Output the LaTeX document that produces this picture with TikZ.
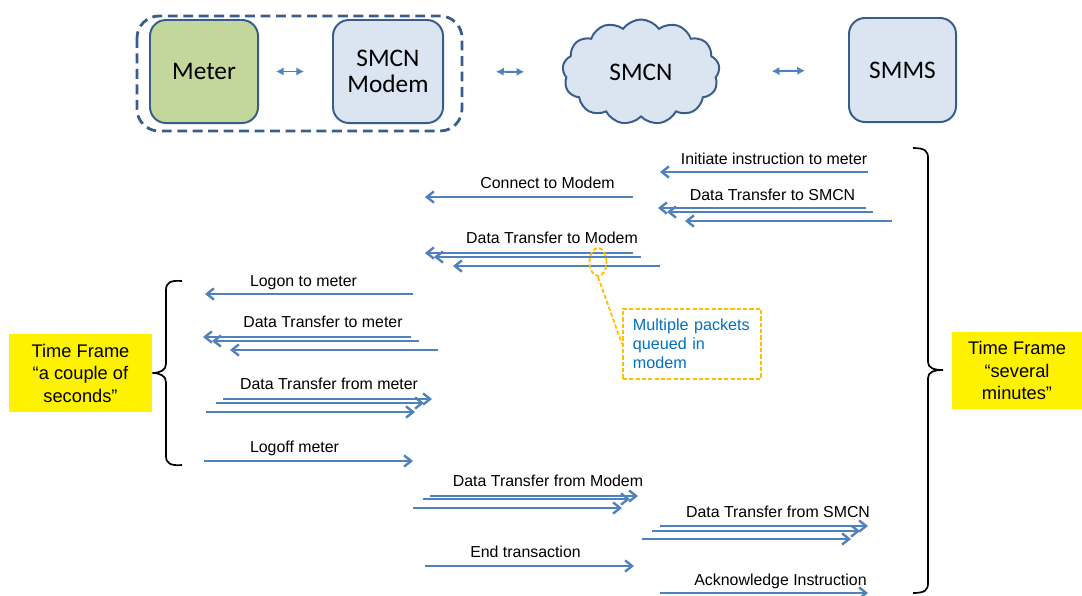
\documentclass[tikz,border=0pt]{standalone}
\usepackage{fontspec}
\setmainfont{Liberation Sans}
\newfontfamily\boxfont{Carlito}
\usetikzlibrary{arrows.meta,shapes.geometric,shapes.symbols}

\begin{document}
\begin{tikzpicture}[x=0.025cm, y=-0.025cm,
  unit/.style={draw=edgeblue, line width=1.4pt, rounded corners=0.4cm, minimum height=2.575cm, align=center, font=\boxfont\fontsize{18}{19}\selectfont},
  link/.style={draw=msgblue, line width=1.4pt, {Latex[length=5.5pt,width=6pt]}-{Latex[length=5.5pt,width=6pt]}},
  msg/.style={draw=msgblue, line width=1.7pt, -{Straight Barb[length=5pt,width=8pt]}},
  lbl/.style={anchor=base, inner sep=0pt, font=\fontsize{11.3}{13}\selectfont},
  timebox/.style={fill=yellow, align=center, inner sep=0pt, font=\fontsize{13}{16}\selectfont},
  brace/.style={draw=black, line width=1.2pt},
  note/.style={draw=noteorange, line width=1.3pt, dash pattern=on 3pt off 1.5pt}]
  \useasboundingbox (0,0) rectangle (1082,595);

  \definecolor{edgeblue}{HTML}{385D8A}
  \definecolor{boxblue}{HTML}{DBE5F1}
  \definecolor{metergreen}{HTML}{C3D69B}
  \definecolor{msgblue}{HTML}{4F81BD}
  \definecolor{noteorange}{HTML}{FFC000}
  \definecolor{notetext}{HTML}{0070C0}

  % units on top
  \draw[edgeblue, line width=2pt, dash pattern=on 7pt off 4pt, rounded corners=0.55cm] (137,16) rectangle (462,131);
  \node[unit, fill=metergreen, minimum width=2.7cm] (meter) at (204,71.5) {Meter};
  \node[unit, fill=boxblue, minimum width=2.75cm] (modem) at (388,71.5) {SMCN\\Modem};
  \node[cloud, cloud puffs=13, cloud puff arc=110, aspect=1.5, draw=edgeblue, fill=boxblue, line width=1.4pt,
        minimum width=3.925cm, minimum height=2.625cm, font=\boxfont\fontsize{18}{19}\selectfont] (smcn) at (641,72) {SMCN};
  \node[unit, fill=boxblue, minimum width=2.675cm, minimum height=2.6cm] (smms) at (902.5,70) {SMMS};

  \draw[link, shorten <=0.425cm, shorten >=0.7cm] (meter.east) -- (modem.west);
  \draw[link, shorten <=1.3cm, shorten >=0.95cm] (modem.east) -- (smcn.west);
  \draw[link, shorten <=1.3cm, shorten >=1.075cm] (smcn.east) -- (smms.west);

  % messages
  \foreach \x/\y/\name/\txt in {
    774/164/initiate/Initiate instruction to meter,
    547.5/188/connect/Connect to Modem,
    772.5/200.7/tosmcn/Data Transfer to SMCN,
    552/243.3/tomodem/Data Transfer to Modem,
    303.5/286/logon/Logon to meter,
    323/327/tometer/Data Transfer to meter,
    329/389/frommeter/Data Transfer from meter,
    294.5/452/logoff/Logoff meter,
    548/486.7/frommodem/Data Transfer from Modem,
    778/517.3/fromsmcn/Data Transfer from SMCN,
    525.5/557.3/endtrans/End transaction,
    780.5/585/ack/Acknowledge Instruction}
    \node[lbl] (\name) at (\x,\y) {\txt};

  \foreach \a/\b/\y in {
    868/660/172, 633/425/197,
    866/658/208, 873/667/212, 892/685/221,
    633/425/253, 641/434/257, 660/453/266,
    413/205/294,
    411/203/337, 419/212/341, 438/230/350,
    223/432/399, 216/424/403, 206/415/412,
    204/413/461,
    430/638/496, 423/630/499, 413/622/508,
    660/868/526, 652/860/531, 642/851/539,
    425/634/566, 660/868/593}
    \draw[msg] (\a,\y) -- (\b,\y);

  % queued packets
  \node[note, ellipse, inner sep=0pt, minimum width=0.425cm, minimum height=0.7cm] (queue) at (598,262) {};
  \node[note, anchor=north west, text width=2.95cm, minimum height=1.7cm, inner sep=0.25cm, align=left,
        text=notetext, font=\fontsize{11.5}{13.5}\selectfont] (packets) at (622,308) {Multiple packets\\queued in\\modem};
  \draw[note] (queue.south) -- (packets.west);

  % time frames
  \node[timebox, minimum width=3.575cm, minimum height=1.95cm] (shortframe) at (80.5,373) {Time Frame\\“a couple of\\seconds”};
  \node[timebox, minimum width=3.25cm, minimum height=1.925cm] (longframe) at (1017,370.5) {Time Frame\\“several\\minutes”};

  \draw[brace] (182,281) .. controls (170,280) and (166,283) .. (166,290) -- (166,364)
    .. controls (166,370) and (160,373) .. (shortframe.east) .. controls (160,373) and (166,376) .. (166,382)
    -- (166,456) .. controls (166,463) and (170,466) .. (182,465);
  \draw[brace] (913,148) .. controls (925,148) and (928,151) .. (928,158) -- (928,362)
    .. controls (928,368) and (934,370) .. (943,370) .. controls (934,370) and (928,372) .. (928,378)
    -- (928,583) .. controls (928,590) and (925,593) .. (913,593);
\end{tikzpicture}
\end{document}
